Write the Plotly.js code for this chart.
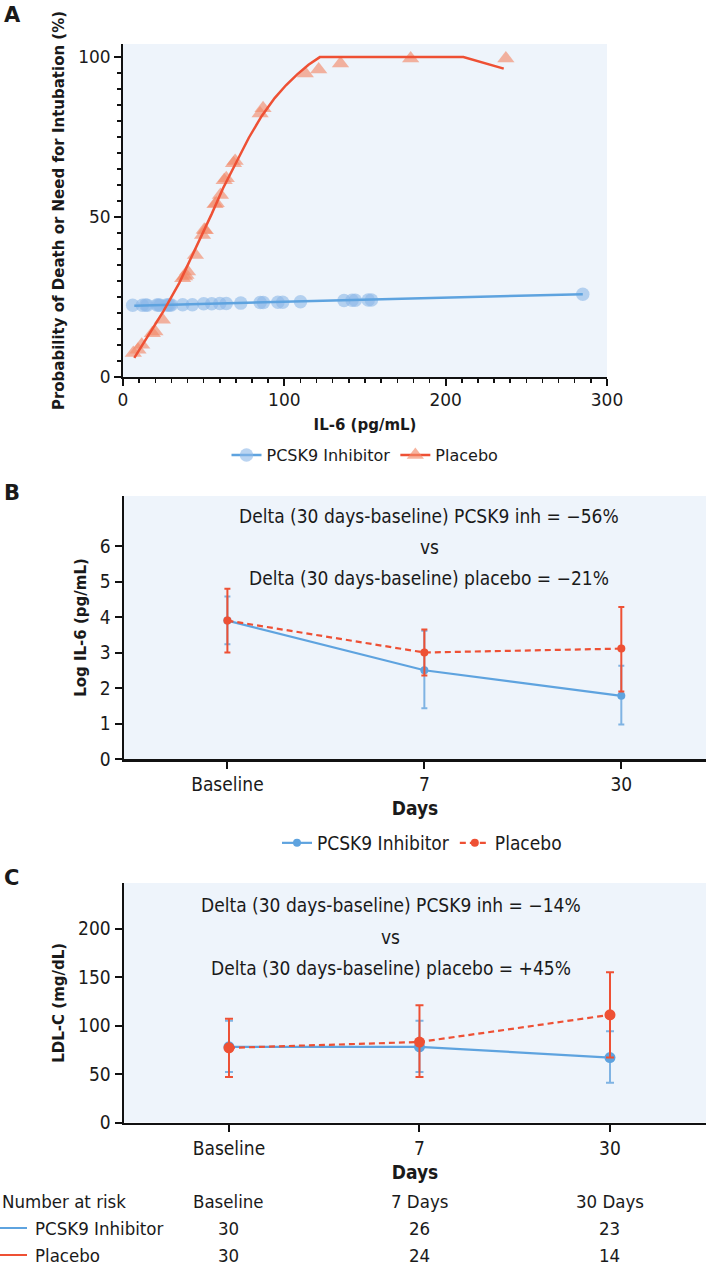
<!DOCTYPE html>
<html>
<head>
<meta charset="utf-8">
<script src="https://cdn.plot.ly/plotly-3.0.1.min.js"></script>
<style>
html,body{margin:0;padding:0;background:#fff;}
#chart{width:706px;height:1267px;}
</style>
</head>
<body>
<div id="chart"></div>
<script>
// ---------- Panel A data ----------
const il6Pcsk9  = [6, 12, 14, 15, 21, 22, 23, 27, 28, 29, 30, 37, 43, 50, 55, 60, 64, 73, 85, 87, 96, 99, 110, 137, 142, 144, 152, 154, 285];
const probPcsk9 = [22.4, 22.4, 22.5, 22.4, 22.5, 22.5, 22.4, 22.5, 22.5, 22.5, 22.5, 22.6, 22.6, 22.9, 22.9, 23.0, 23.0, 23.1, 23.3, 23.3, 23.4, 23.4, 23.5, 23.9, 24.0, 24.0, 24.1, 24.1, 25.9];
const il6Placebo  = [6.4, 9.3, 11.6, 18.2, 19.8, 24.4, 37, 38.2, 39, 40, 44.9, 49.3, 50.4, 51, 57, 57.8, 60.4, 62.7, 64, 68.5, 69.5, 85, 86.8, 113, 121.3, 134.8, 178.3, 237.3];
const probPlacebo = [7.5, 8.5, 10.1, 13.7, 14.2, 17.9, 30.9, 31.4, 31.9, 33, 38.1, 44.4, 46, 45.9, 54, 54.3, 56.9, 61.5, 62.1, 66.8, 67.5, 82.4, 84, 94.9, 96.1, 98, 99.6, 99.6];
const fitPcsk9X = [7, 285];
const fitPcsk9Y = [22.3, 25.9];
const fitPlaceboX = [7, 15, 25, 35, 45, 55, 62, 70, 78, 86, 94, 101, 108, 115, 122, 211, 236];
const fitPlaceboY = [6, 12.5, 20.5, 29.5, 40, 51, 59, 67, 74.8, 81.6, 87.2, 91.2, 94.6, 97.6, 100, 100, 96.4];
const xTicksA = [0, 100, 200, 300];
const yTicksA = [0, 50, 100];

// ---------- Panel B data (Log IL-6) ----------
const dayLabels = ['Baseline', '7', '30'];
const logIl6Pcsk9      = [3.9, 2.5, 1.78];
const logIl6Pcsk9Upper = [4.58, 3.61, 2.63];
const logIl6Pcsk9Lower = [3.23, 1.43, 0.97];
const logIl6Placebo      = [3.9, 3.0, 3.11];
const logIl6PlaceboUpper = [4.8, 3.65, 4.28];
const logIl6PlaceboLower = [3.0, 2.35, 1.9];
const yTicksB = [0, 1, 2, 3, 4, 5, 6];
const deltaTextB = ['Delta (30 days-baseline) PCSK9 inh = \u221256%', 'vs', 'Delta (30 days-baseline) placebo = \u221221%'];

// ---------- Panel C data (LDL-C) ----------
const ldlPcsk9      = [78, 78, 67];
const ldlPcsk9Upper = [105, 105, 94];
const ldlPcsk9Lower = [52, 52, 41];
const ldlPlacebo      = [77, 83, 111];
const ldlPlaceboUpper = [107, 121, 155];
const ldlPlaceboLower = [47, 47, 67];
const yTicksC = [0, 50, 100, 150, 200];
const deltaTextC = ['Delta (30 days-baseline) PCSK9 inh = \u221214%', 'vs', 'Delta (30 days-baseline) placebo = +45%'];

// ---------- Number at risk ----------
const riskTitle = 'Number at risk';
const riskHeaders = ['Baseline', '7 Days', '30 Days'];
const riskGroups = ['PCSK9 Inhibitor', 'Placebo'];
const riskPcsk9 = [30, 26, 23];
const riskPlacebo = [30, 24, 14];

// ---------- styling ----------
const W = 706, H = 1267;
const fx = p => p / W;
const fy = p => 1 - p / H;
const BG = '#eef4fb';
const BLUE = '#5ea3df';
const BLUE_MK = 'rgba(140,184,232,0.6)';
const RED = '#ee5034';
const RED_MK = 'rgba(243,140,108,0.65)';
const SANS = 'DejaVu Sans, Noto Sans, sans-serif';
const COND = 'DejaVu Sans Condensed, Liberation Sans Narrow, Roboto Condensed, sans-serif';
const TXT = '#1a1a1a';

const diff = (a, b) => a.map((v, i) => v - b[i]);

const traces = [
  // Panel A
  {x: il6Pcsk9, y: probPcsk9, type: 'scatter', mode: 'markers', xaxis: 'x', yaxis: 'y',
   marker: {symbol: 'circle', size: 13.5, color: BLUE_MK, line: {width: 0}}, showlegend: false},
  {x: fitPcsk9X, y: fitPcsk9Y, type: 'scatter', mode: 'lines', xaxis: 'x', yaxis: 'y',
   line: {color: BLUE, width: 2.5}, showlegend: false},
  {x: il6Placebo, y: probPlacebo, type: 'scatter', mode: 'markers', xaxis: 'x', yaxis: 'y',
   marker: {symbol: 'triangle-up', size: 15, color: RED_MK, line: {width: 0}}, showlegend: false},
  {x: fitPlaceboX, y: fitPlaceboY, type: 'scatter', mode: 'lines', xaxis: 'x', yaxis: 'y',
   line: {color: RED, width: 2.5}, showlegend: false},
  // legend-only entries for panel A
  {x: [null], y: [null], type: 'scatter', mode: 'lines+markers', name: 'PCSK9 Inhibitor', xaxis: 'x', yaxis: 'y',
   line: {color: BLUE, width: 2.5}, marker: {symbol: 'circle', size: 13.5, color: BLUE_MK}, legend: 'legend'},
  {x: [null], y: [null], type: 'scatter', mode: 'lines+markers', name: 'Placebo', xaxis: 'x', yaxis: 'y',
   line: {color: RED, width: 2.5}, marker: {symbol: 'triangle-up', size: 15, color: RED_MK}, legend: 'legend'},

  // Panel B
  {x: dayLabels, y: logIl6Pcsk9, type: 'scatter', mode: 'lines+markers', name: 'PCSK9 Inhibitor',
   xaxis: 'x2', yaxis: 'y2', legend: 'legend2',
   line: {color: BLUE, width: 2.2}, marker: {color: BLUE, size: 8},
   error_y: {type: 'data', symmetric: false, array: diff(logIl6Pcsk9Upper, logIl6Pcsk9), arrayminus: diff(logIl6Pcsk9, logIl6Pcsk9Lower),
             color: '#7fb3e3', thickness: 2, width: 3}},
  {x: dayLabels, y: logIl6Placebo, type: 'scatter', mode: 'lines+markers', name: 'Placebo',
   xaxis: 'x2', yaxis: 'y2', legend: 'legend2',
   line: {color: RED, width: 2.2, dash: '6px,4px'}, marker: {color: RED, size: 8},
   error_y: {type: 'data', symmetric: false, array: diff(logIl6PlaceboUpper, logIl6Placebo), arrayminus: diff(logIl6Placebo, logIl6PlaceboLower),
             color: RED, thickness: 2, width: 3}},

  // Panel C
  {x: dayLabels, y: ldlPcsk9, type: 'scatter', mode: 'lines+markers', name: 'PCSK9 Inhibitor',
   xaxis: 'x3', yaxis: 'y3', showlegend: false,
   line: {color: BLUE, width: 2.2}, marker: {color: BLUE, size: 11},
   error_y: {type: 'data', symmetric: false, array: diff(ldlPcsk9Upper, ldlPcsk9), arrayminus: diff(ldlPcsk9, ldlPcsk9Lower),
             color: '#7fb3e3', thickness: 2, width: 4}},
  {x: dayLabels, y: ldlPlacebo, type: 'scatter', mode: 'lines+markers', name: 'Placebo',
   xaxis: 'x3', yaxis: 'y3', showlegend: false,
   line: {color: RED, width: 2.2, dash: '6px,4px'}, marker: {color: RED, size: 11},
   error_y: {type: 'data', symmetric: false, array: diff(ldlPlaceboUpper, ldlPlacebo), arrayminus: diff(ldlPlacebo, ldlPlaceboLower),
             color: RED, thickness: 2, width: 4}}
];

const axisBase = {showgrid: false, zeroline: false, showline: true, linecolor: '#111', linewidth: 2,
                  ticks: 'outside', tickcolor: '#111', tickwidth: 2, ticklen: 7};

const annotations = [];
// panel labels
[['A', 15], ['B', 493], ['C', 878]].forEach(([t, y]) => annotations.push({
  text: '<b>' + t + '</b>', xref: 'paper', yref: 'paper', x: fx(2), y: fy(y), xanchor: 'left', yanchor: 'middle',
  showarrow: false, font: {family: SANS, size: 21, color: TXT}}));
// delta texts
const bY = [516, 547, 578], cY = [905, 937, 968];
const dFont = {family: COND, size: 19, color: TXT};
deltaTextB.forEach((t, i) => annotations.push({text: t, xref: 'paper', yref: 'paper', x: fx(429), y: fy(bY[i]),
  xanchor: 'center', yanchor: 'middle', showarrow: false, font: dFont}));
deltaTextC.forEach((t, i) => annotations.push({text: t, xref: 'paper', yref: 'paper', x: fx(391), y: fy(cY[i]),
  xanchor: 'center', yanchor: 'middle', showarrow: false, font: dFont}));
// number at risk table
const rowY = [1201, 1228, 1255];
const tFont = {family: COND, size: 18.5, color: TXT};
annotations.push({text: riskTitle, xref: 'paper', yref: 'paper', x: 0, y: fy(rowY[0]), xanchor: 'left', yanchor: 'middle', showarrow: false, font: tFont});
riskHeaders.forEach((t, i) => annotations.push({text: t, xref: 'x3', yref: 'paper', x: i, y: fy(rowY[0]), xanchor: 'center', yanchor: 'middle', showarrow: false, font: tFont}));
riskGroups.forEach((g, r) => annotations.push({text: g, xref: 'paper', yref: 'paper', x: fx(33), y: fy(rowY[r + 1]), xanchor: 'left', yanchor: 'middle', showarrow: false, font: tFont}));
[riskPcsk9, riskPlacebo].forEach((row, r) => row.forEach((v, i) => annotations.push({text: String(v), xref: 'x3', yref: 'paper', x: i, y: fy(rowY[r + 1]),
  xanchor: 'center', yanchor: 'middle', showarrow: false, font: tFont})));

const shapes = [
  {type: 'line', xref: 'paper', yref: 'paper', x0: 0, x1: fx(27), y0: fy(rowY[1]), y1: fy(rowY[1]), line: {color: BLUE, width: 2}},
  {type: 'line', xref: 'paper', yref: 'paper', x0: 0, x1: fx(27), y0: fy(rowY[2]), y1: fy(rowY[2]), line: {color: RED, width: 2}}
];

const layout = {
  width: W, height: H, autosize: false,
  margin: {l: 0, r: 0, t: 0, b: 0},
  paper_bgcolor: '#fff',
  font: {family: SANS, color: TXT},
  showlegend: true,
  // Panel A axes
  xaxis: Object.assign({}, axisBase, {domain: [fx(123), fx(607)], anchor: 'y', range: [0, 300], tickvals: xTicksA,
    tickfont: {family: SANS, size: 17, color: TXT},
    minor: {dtick: 10, ticks: 'outside', ticklen: 4, tickcolor: '#111', tickwidth: 1.5},
    title: {text: '<b>IL-6 (pg/mL)</b>', font: {family: SANS, size: 15, color: TXT}, standoff: 10}}),
  yaxis: Object.assign({}, axisBase, {domain: [fy(377), fy(44)], anchor: 'x', range: [0, 104.1], tickvals: yTicksA,
    tickfont: {family: SANS, size: 17, color: TXT},
    minor: {dtick: 5, ticks: 'outside', ticklen: 4, tickcolor: '#111', tickwidth: 1.5},
    title: {text: '<b>Probability of Death or Need for Intubation (%)</b>', font: {family: SANS, size: 15, color: TXT}, standoff: 10}}),
  // Panel B axes
  xaxis2: Object.assign({}, axisBase, {domain: [fx(124), 1], anchor: 'y2', type: 'category', range: [-0.525, 2.43],
    linewidth: 2.5, tickfont: {family: COND, size: 19, color: TXT},
    title: {text: '<b>Days</b>', font: {family: COND, size: 19, color: TXT}, standoff: 8}}),
  yaxis2: Object.assign({}, axisBase, {domain: [fy(759), fy(496)], anchor: 'x2', range: [0, 7.41], tickvals: yTicksB,
    linewidth: 2.5, tickfont: {family: COND, size: 19, color: TXT},
    title: {text: '<b>Log IL-6 (pg/mL)</b>', font: {family: SANS, size: 15, color: TXT}, standoff: 10}}),
  // Panel C axes
  xaxis3: Object.assign({}, axisBase, {domain: [fx(124), 1], anchor: 'y3', type: 'category', range: [-0.551, 2.504],
    linewidth: 2.5, tickfont: {family: COND, size: 19, color: TXT},
    title: {text: '<b>Days</b>', font: {family: COND, size: 19, color: TXT}, standoff: 8}}),
  yaxis3: Object.assign({}, axisBase, {domain: [fy(1122.5), fy(883)], anchor: 'x3', range: [0, 247], tickvals: yTicksC,
    linewidth: 2.5, tickfont: {family: COND, size: 19, color: TXT},
    title: {text: '<b>LDL-C (mg/dL)</b>', font: {family: SANS, size: 15, color: TXT}, standoff: 10}}),
  plot_bgcolor: BG,
  legend: {orientation: 'h', x: fx(365), y: fy(455), xanchor: 'center', yanchor: 'middle',
    font: {family: SANS, size: 16, color: TXT}, bgcolor: 'rgba(0,0,0,0)', itemwidth: 30},
  legend2: {orientation: 'h', x: fx(422), y: fy(843), xanchor: 'center', yanchor: 'middle',
    font: {family: COND, size: 19, color: TXT}, bgcolor: 'rgba(0,0,0,0)', itemwidth: 30},
  annotations: annotations,
  shapes: shapes
};

Plotly.newPlot('chart', traces, layout, {staticPlot: true, displayModeBar: false});
</script>
</body>
</html>
